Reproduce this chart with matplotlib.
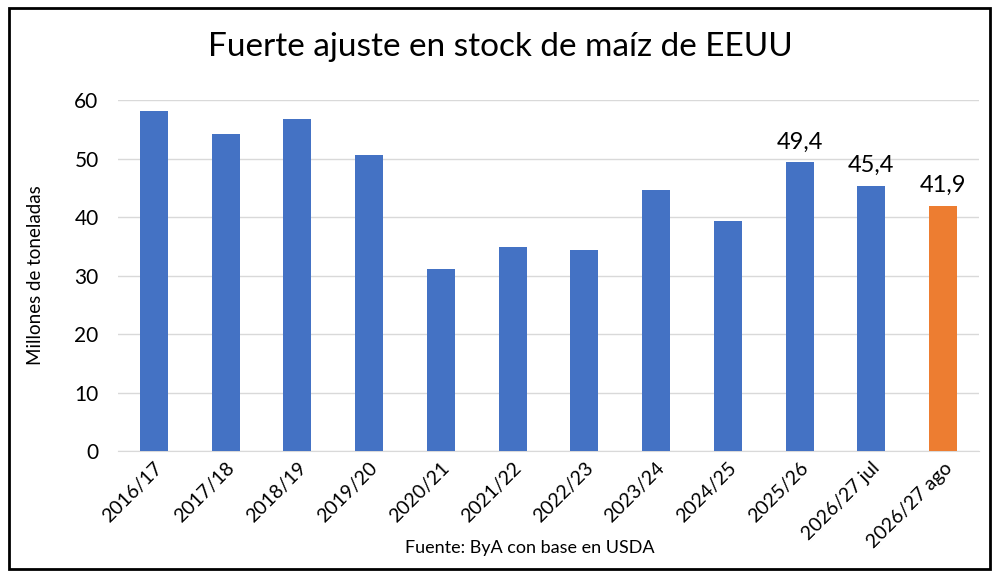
import matplotlib.pyplot as plt
from matplotlib.patches import Rectangle

plt.rcParams['font.family'] = ['Lato', 'DejaVu Sans']

campaigns = ["2016/17", "2017/18", "2018/19", "2019/20", "2020/21", "2021/22",
             "2022/23", "2023/24", "2024/25", "2025/26", "2026/27 jul", "2026/27 ago"]
stocks = [58.2, 54.3, 56.8, 50.7, 31.2, 34.9, 34.4, 44.7, 39.4, 49.4, 45.4, 41.9]
labeled = {9: "49,4", 10: "45,4", 11: "41,9"}
colors = ['#4472C4'] * 11 + ['#ED7D31']

fig = plt.figure(figsize=(10, 5.79), dpi=100)
ax = fig.add_axes([0.118, 0.221, 0.861, 0.606])

x = list(range(len(campaigns)))
ax.bar(x, stocks, width=0.39, color=colors, zorder=3)

for i, txt in labeled.items():
    ax.annotate(txt, (i, stocks[i]), xytext=(0, 7), textcoords='offset points',
                ha='center', va='bottom', fontsize=17)

ax.set_xlim(-0.5, len(campaigns) - 0.5)
ax.set_ylim(0, 60)
ax.set_yticks(range(0, 61, 10))
ax.yaxis.grid(True, color='#d9d9d9', lw=1, zorder=0)
for s in ['top', 'right', 'left']:
    ax.spines[s].set_visible(False)
ax.spines['bottom'].set_color('#d9d9d9')
ax.tick_params(axis='both', length=0)
ax.tick_params(axis='y', labelsize=15, pad=14)
ax.tick_params(axis='x', pad=6)
ax.set_xticks(x)
ax.set_xticklabels(campaigns, rotation=45, ha='right', rotation_mode='anchor', fontsize=14)
ax.set_ylabel("Millones de toneladas", fontsize=13.5, labelpad=22)

fig.text(0.5, 0.918, "Fuerte ajuste en stock de maíz de EEUU", ha='center', va='center', fontsize=24)
fig.text(0.53, 0.053, "Fuente: ByA con base en USDA", ha='center', va='center', fontsize=13)

fig.patches.append(Rectangle((0.009, 0.017), 0.981, 0.969, transform=fig.transFigure,
                             fill=False, edgecolor='black', lw=2))

fig.savefig("out.png", dpi=100)
